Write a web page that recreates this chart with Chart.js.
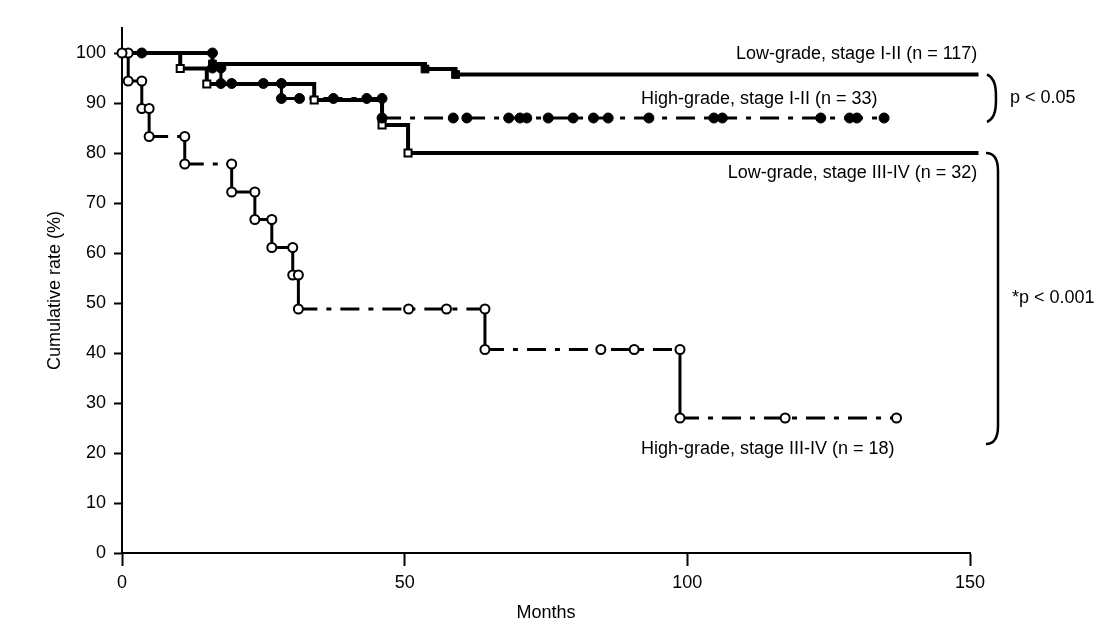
<!DOCTYPE html>
<html>
<head>
<meta charset="utf-8">
<script src="https://cdn.jsdelivr.net/npm/chart.js@4.4.1/dist/chart.umd.min.js"></script>
<style>
  html, body { margin: 0; padding: 0; background: #fff; }
  #wrap { width: 1106px; height: 636px; }
</style>
</head>
<body>
<div id="wrap"><canvas id="kmChart"></canvas></div>
<script>
// axis ticks
const xTicks = [0, 50, 100, 150];
const yTicks = [0, 10, 20, 30, 40, 50, 60, 70, 80, 90, 100];

// Low-grade, stage I-II (n = 117)
const lgEarlyTimes = [16, 53.6, 59];
const lgEarlyRates = [97.8, 96.8, 95.7];
const lgEarlyEnd = 151.5;

// High-grade, stage I-II (n = 33)
const hgEarlyTimes = [16, 17.5, 28.2, 46];
const hgEarlyRates = [97, 93.9, 90.9, 87];
const hgEarlyEnd = 134.8;
const hgEarlyCensored = [3.5, 19.4, 25, 31.4, 37.4, 43.3, 58.6, 61, 68.4, 70.4, 71.6, 75.4,
  79.8, 83.4, 86, 93.2, 104.7, 106.2, 123.6, 128.7, 130, 134.8];

// Low-grade, stage III-IV (n = 32)
const lgLateTimes = [10.3, 15, 34, 46, 50.6];
const lgLateRates = [96.9, 93.8, 90.6, 85.6, 80];
const lgLateEnd = 151.5;

// High-grade, stage III-IV (n = 18)
const hgLateTimes = [1.1, 3.5, 4.8, 11.1, 19.4, 23.5, 26.5, 30.2, 31.2, 64.2, 98.7];
const hgLateRates = [94.4, 88.9, 83.3, 77.8, 72.2, 66.7, 61.1, 55.6, 48.8, 40.7, 27];
const hgLateEnd = 137;
const hgLateCensored = [0, 50.7, 57.4, 84.7, 90.6, 117.3, 137];

const FONT = "'Liberation Sans', Arial, Helvetica, sans-serif";
const dashDot = [19, 9, 5, 9];

// build the step path with explicit corners
function stepPath(times, rates, end) {
  const pts = [{x: 0, y: 100}];
  let prev = 100;
  times.forEach((t, i) => {
    pts.push({x: t, y: prev});
    pts.push({x: t, y: rates[i]});
    prev = rates[i];
  });
  pts.push({x: end, y: prev});
  return pts;
}

function rateAt(times, rates, t) {
  let v = 100;
  times.forEach((tt, i) => { if (tt <= t) v = rates[i]; });
  return v;
}

// circles at both corners of each drop plus censored cases
function cornerMarks(times, rates, censored) {
  const pts = [];
  let prev = 100;
  times.forEach((t, i) => {
    pts.push({x: t, y: prev});
    pts.push({x: t, y: rates[i]});
    prev = rates[i];
  });
  censored.forEach(t => pts.push({x: t, y: rateAt(times, rates, t)}));
  return pts;
}

function eventMarks(times, rates) {
  return times.map((t, i) => ({x: t, y: rates[i]}));
}

const vertSolid = ctx => ctx.p0.parsed.x === ctx.p1.parsed.x ? [] : dashDot;

const lineBase = {
  showLine: true, pointRadius: 0, borderColor: '#000', fill: false,
  clip: false, order: 2, borderJoinStyle: 'miter'
};

// text labels and brackets to the right of the plot
const annotations = {
  id: 'annotations',
  afterDraw(chart) {
    const c = chart.ctx;
    const x = chart.scales.x, y = chart.scales.y;
    c.save();
    c.fillStyle = '#000';
    c.font = '18px ' + FONT;
    c.textBaseline = 'middle';

    c.textAlign = 'right';
    c.fillText('Low-grade, stage I-II (n = 117)', x.getPixelForValue(151.3), y.getPixelForValue(95.7) - 20);
    c.fillText('Low-grade, stage III-IV (n = 32)', x.getPixelForValue(151.3), y.getPixelForValue(80) + 20);
    c.textAlign = 'left';
    c.fillText('High-grade, stage I-II (n = 33)', x.getPixelForValue(91.8), y.getPixelForValue(87) - 19);
    c.fillText('High-grade, stage III-IV (n = 18)', x.getPixelForValue(91.8), y.getPixelForValue(27) + 31);

    const bx = x.getPixelForValue(150);
    c.fillText('p < 0.05', bx + 40, y.getPixelForValue(91));
    c.fillText('*p < 0.001', bx + 42, y.getPixelForValue(51));

    c.strokeStyle = '#000';
    c.lineWidth = 2.5;
    // bracket 1
    let top = y.getPixelForValue(95.7), bot = y.getPixelForValue(86.2);
    let mid = (top + bot) / 2, x0 = bx + 17;
    c.beginPath();
    c.moveTo(x0, top);
    c.bezierCurveTo(x0 + 9, top + 4, x0 + 9, mid - 8, x0 + 9, mid);
    c.bezierCurveTo(x0 + 9, mid + 8, x0 + 9, bot - 4, x0, bot);
    c.stroke();
    // bracket 2
    top = y.getPixelForValue(80); bot = y.getPixelForValue(21.8);
    x0 = bx + 16;
    const xs = bx + 28;
    c.beginPath();
    c.moveTo(x0, top);
    c.quadraticCurveTo(xs, top, xs, top + 18);
    c.lineTo(xs, bot - 18);
    c.quadraticCurveTo(xs, bot, x0, bot);
    c.stroke();
    c.restore();
  }
};

const ctx = document.getElementById('kmChart').getContext('2d');
new Chart(ctx, {
  type: 'scatter',
  data: {
    datasets: [
      {
        label: 'hgLateMarks', data: cornerMarks(hgLateTimes, hgLateRates, hgLateCensored),
        pointStyle: 'circle', pointRadius: 4.5, pointBackgroundColor: '#fff',
        pointBorderColor: '#000', pointBorderWidth: 2, clip: false, order: 0
      },
      {
        label: 'hgEarlyMarks', data: cornerMarks(hgEarlyTimes, hgEarlyRates, hgEarlyCensored),
        pointStyle: 'circle', pointRadius: 5, pointBackgroundColor: '#000',
        pointBorderColor: '#000', pointBorderWidth: 1, clip: false, order: 0
      },
      {
        label: 'lgLateMarks', data: eventMarks(lgLateTimes, lgLateRates),
        pointStyle: 'rect', pointRadius: 5, pointBackgroundColor: '#fff',
        pointBorderColor: '#000', pointBorderWidth: 2, clip: false, order: 0
      },
      {
        label: 'lgEarlyMarks', data: eventMarks(lgEarlyTimes, lgEarlyRates),
        pointStyle: 'rect', pointRadius: 5.5, pointBackgroundColor: '#000',
        pointBorderColor: '#000', pointBorderWidth: 1, clip: false, order: 0
      },
      Object.assign({}, lineBase, {
        label: 'Low-grade, stage I-II (n = 117)',
        data: stepPath(lgEarlyTimes, lgEarlyRates, lgEarlyEnd), borderWidth: 4
      }),
      Object.assign({}, lineBase, {
        label: 'Low-grade, stage III-IV (n = 32)',
        data: stepPath(lgLateTimes, lgLateRates, lgLateEnd), borderWidth: 4
      }),
      Object.assign({}, lineBase, {
        label: 'High-grade, stage I-II (n = 33)',
        data: stepPath(hgEarlyTimes, hgEarlyRates, hgEarlyEnd), borderWidth: 3,
        segment: { borderDash: vertSolid }
      }),
      Object.assign({}, lineBase, {
        label: 'High-grade, stage III-IV (n = 18)',
        data: stepPath(hgLateTimes, hgLateRates, hgLateEnd), borderWidth: 3,
        segment: { borderDash: vertSolid }
      })
    ]
  },
  options: {
    responsive: true,
    maintainAspectRatio: false,
    animation: false,
    layout: { padding: { top: 28, right: 136, bottom: 0, left: 0 } },
    plugins: { legend: { display: false }, tooltip: { enabled: false } },
    scales: {
      x: {
        type: 'linear', min: 0, max: 150,
        afterBuildTicks: a => { a.ticks = xTicks.map(v => ({value: v})); },
        afterFit: a => { a.height = 83; },
        grid: { display: true, drawOnChartArea: false, drawTicks: true, tickLength: 13, tickWidth: 2, tickColor: '#000' },
        border: { display: true, color: '#000', width: 2 },
        ticks: { color: '#000', font: { size: 18, family: FONT }, padding: 6, maxRotation: 0 },
        title: { display: true, text: 'Months', color: '#000', font: { size: 18, family: FONT }, padding: { top: 0, bottom: 12 } }
      },
      y: {
        type: 'linear', min: 0, max: 105,
        afterBuildTicks: a => { a.ticks = yTicks.map(v => ({value: v})); },
        afterFit: a => { a.width = 122; },
        grid: { display: true, drawOnChartArea: false, drawTicks: true, tickLength: 8, tickWidth: 2, tickColor: '#000' },
        border: { display: true, color: '#000', width: 2 },
        ticks: { color: '#000', font: { size: 18, family: FONT }, padding: 8 },
        title: { display: true, text: 'Cumulative rate (%)', color: '#000', font: { size: 18, family: FONT }, padding: { top: 44, bottom: 0 } }
      }
    }
  },
  plugins: [annotations]
});
</script>
</body>
</html>
